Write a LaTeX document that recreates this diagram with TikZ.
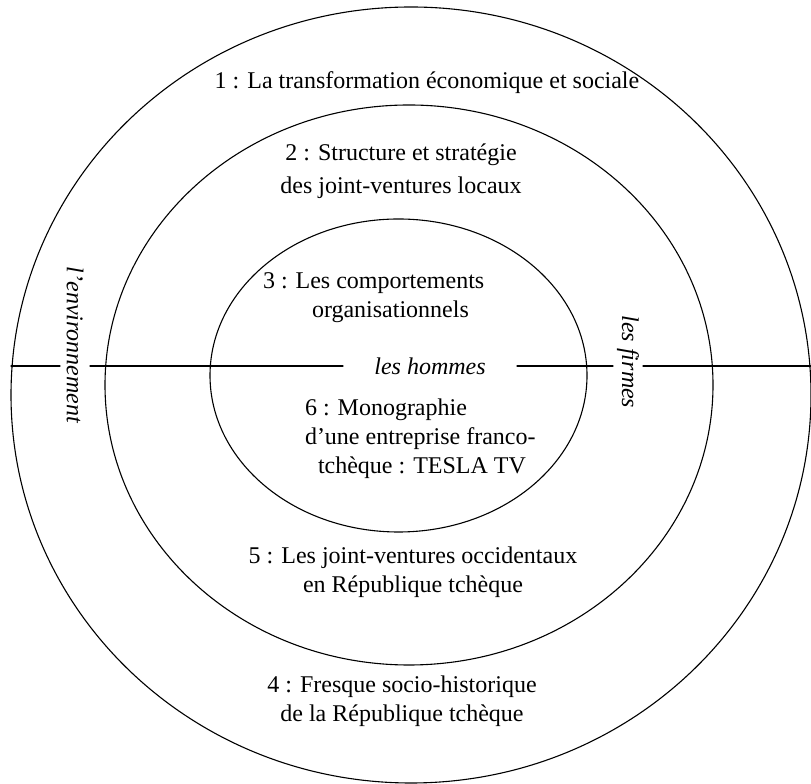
\documentclass[tikz,border=0pt]{standalone}
\usepackage{fontspec}
\setmainfont{Liberation Serif}
\usepackage{tikz}

\begin{document}
\begin{tikzpicture}[x=1pt,y=1pt,
  ring/.style={draw=drawColor,line width=1.1pt,line join=round,line cap=round},
  txt/.style={text=drawColor,inner sep=0pt,outer sep=0pt,font=\fontsize{24}{29}\selectfont},
  axis/.style={text=drawColor,inner sep=0pt,outer sep=0pt,font=\fontsize{24}{29}\selectfont\itshape}]
\definecolor{drawColor}{RGB}{0,0,0}
\path[use as bounding box] (0,0) rectangle (811,784);

\path[ring] (411,389) ellipse (400 and 388);

\path[ring] (409,399) ellipse (304 and 280);

\path[ring] (398.5,408.5) ellipse (188.5 and 156.5);

\node[txt] (ring1) at (427,701) {1 : La transformation économique et sociale};

\node[txt,align=center] (ring2) at (401,612.5) {2 : Structure et stratégie\\[4pt]des joint-ventures locaux};

\node[txt,align=left,anchor=west] (ring3) at (263,486) {3 : Les comportements\\\hspace*{49pt}organisationnels};

\node[txt,align=left,anchor=west] (ring6) at (305,345.5) {6 : Monographie\\d’une entreprise franco-\\\hspace*{13pt}tchèque : TESLA TV};

\node[txt,align=center] (ring5) at (413,211.5) {5 : Les joint-ventures occidentaux\\en République tchèque};

\node[txt,align=center] (ring4) at (402,82.5) {4 : Fresque socio-historique\\de la République tchèque};

\coordinate (lineL) at (11,418);
\coordinate (lineR) at (811,418);

\node[axis,rotate=-90,minimum height=30pt] (env) at (75,439) {l’environnement};

\node[axis,minimum width=174pt] (hom) at (430,418) {les hommes};

\node[axis,rotate=-90,minimum height=30pt] (fir) at (628,422) {les firmes};

\draw[ring] (lineL) -- (lineL -| env.south);
\draw[ring] (env.north |- lineL) -- (hom.west);
\draw[ring] (hom.east) -- (fir.south |- lineL);
\draw[ring] (fir.north |- lineL) -- (lineR);
\end{tikzpicture}
\end{document}
